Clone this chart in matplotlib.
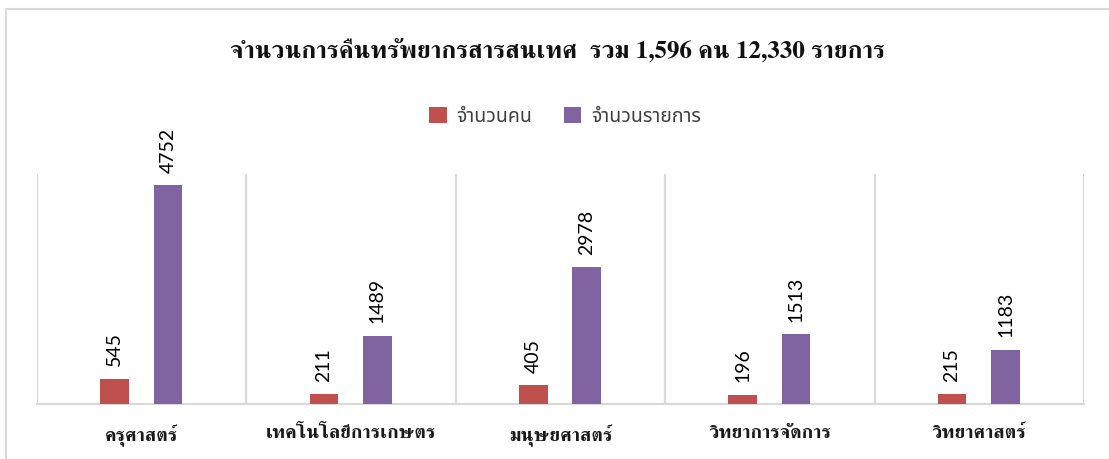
import numpy as np
import matplotlib
matplotlib.use("Agg")
import matplotlib.pyplot as plt
from matplotlib.patches import Rectangle

categories = ["ครุศาสตร์", "เทคโนโลยีการเกษตร", "มนุษยศาสตร์", "วิทยาการจัดการ", "วิทยาศาสตร์"]
people = [545, 211, 405, 196, 215]
items = [4752, 1489, 2978, 1513, 1183]
series_names = ["จำนวนคน", "จำนวนรายการ"]
title = "จำนวนการคืนทรัพยากรสารสนเทศ  รวม 1,596 คน 12,330 รายการ"

red = "#C0504D"
purple = "#8064A2"
grid_c = "#D9D9D9"

fig = plt.figure(figsize=(11.09, 4.59), dpi=100)
ax = fig.add_axes([37 / 1109, 55 / 459, 1047 / 1109, 230 / 459])

x = np.arange(len(categories))
w = 0.136
b1 = ax.bar(x - 0.13, people, w, color=red, label=series_names[0], zorder=3)
b2 = ax.bar(x + 0.125, items, w, color=purple, label=series_names[1], zorder=3)

# value labels, rotated like the original
for bars in (b1, b2):
    for r in bars:
        ax.annotate(str(int(r.get_height())), (r.get_x() + r.get_width() / 2, r.get_height()),
                    xytext=(0, 9), textcoords="offset points", rotation=90,
                    ha="center", va="bottom", fontsize=14, family="Lato", color="#000000")

ax.set_xlim(-0.5, len(categories) - 0.5)
ax.set_ylim(0, 5000)
ax.set_yticks([])
ax.set_xticks(x)
ax.set_xticklabels(categories, family=["FreeSerif", "DejaVu Sans"], fontsize=14,
                   fontweight="bold", color="#1a1a1a")
ax.tick_params(axis="x", length=0, pad=15)

# vertical separators between categories
for xv in np.arange(-0.5, len(categories), 1.0):
    ax.axvline(xv, color=grid_c, lw=1.6, zorder=1)
for s in ["top", "right", "left"]:
    ax.spines[s].set_visible(False)
ax.spines["bottom"].set_color(grid_c)
ax.spines["bottom"].set_linewidth(1.6)

fig.text(557 / 1109, 1 - 50 / 459, title, ha="center", va="center", fontsize=18,
         fontweight="bold", family=["FreeSerif", "DejaVu Sans"], color="#111111")

leg = fig.legend(loc="center", bbox_to_anchor=(565 / 1109, 1 - 117 / 459), ncol=2, frameon=False,
                 prop={"family": ["Noto Sans Thai", "DejaVu Sans"], "size": 14},
                 handlelength=0.9, handleheight=0.9, columnspacing=1.6, handletextpad=0.5)
for t in leg.get_texts():
    t.set_color("#404040")

# outer chart frame
fig.patches.append(Rectangle((6 / 1109, -0.05), 1.0, 1.05 - 9 / 459, transform=fig.transFigure,
                             fill=False, edgecolor=grid_c, lw=1.5))

fig.savefig("out.png")
